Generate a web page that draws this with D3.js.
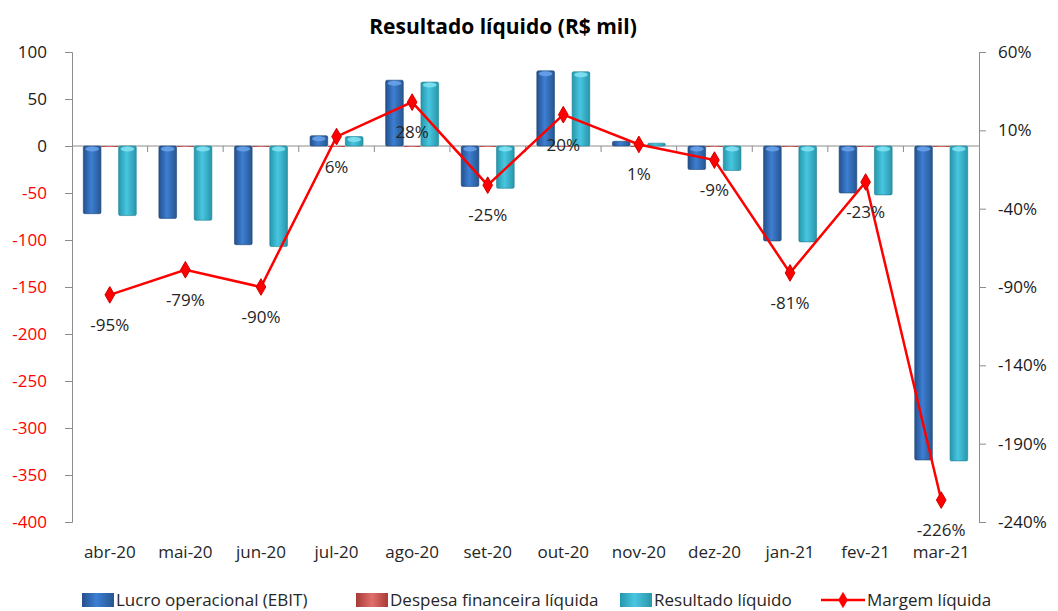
<!DOCTYPE html>
<html lang="pt">
<head>
<meta charset="UTF-8">
<title>Resultado líquido</title>
<script src="https://d3js.org/d3.v7.min.js"></script>
<style>
  body { margin: 0; background: #fff; }
  text { font-family: "Open Sans", sans-serif; }
</style>
</head>
<body>
<svg width="1058" height="611" id="mainsvg"></svg>
<script>
// dados
const meses = ['abr-20', 'mai-20', 'jun-20', 'jul-20', 'ago-20', 'set-20', 'out-20', 'nov-20', 'dez-20', 'jan-21', 'fev-21', 'mar-21'];
const lucroOperacional = [-72, -77, -105, 11, 70, -43, 80, 5, -25, -101, -50, -334];
const despesaFinanceira = [-1, -1, -1, -0.5, -1, -1, -1, -0.5, -1, -1, -1, -1];
const resultadoLiquido = [-74, -79, -107, 10, 68, -45, 79, 3, -26, -102, -52, -335];
const margemLiquida = [-95, -79, -90, 6, 28, -25, 20, 1, -9, -81, -23, -226];
const leftTicks = [100, 50, 0, -50, -100, -150, -200, -250, -300, -350, -400];
const rightTicks = [60, 10, -40, -90, -140, -190, -240];
const series = ['Lucro operacional (EBIT)', 'Despesa financeira líquida', 'Resultado líquido'];

const svg = d3.select('#mainsvg');
const margin = { top: 52, right: 79, bottom: 89, left: 72 };
const width = +svg.attr('width');
const height = +svg.attr('height');
const innerWidth = width - margin.left - margin.right;
const innerHeight = height - margin.top - margin.bottom;

// gradientes para as barras
const defs = svg.append('defs');
const grad = (id, stops) => {
  const g = defs.append('linearGradient').attr('id', id).attr('x1', 0).attr('x2', 1).attr('y1', 0).attr('y2', 0);
  stops.forEach(s => g.append('stop').attr('offset', s[0]).attr('stop-color', s[1]));
};
grad('gBlue', [[0, '#24508c'], [0.45, '#3d7fd3'], [1, '#27568f']]);
grad('gRed', [[0, '#a83a37'], [0.5, '#e0706c'], [1, '#a83a37']]);
grad('gCyan', [[0, '#2597ad'], [0.45, '#48c6e0'], [1, '#2896ab']]);
const fills = ['url(#gBlue)', 'url(#gRed)', 'url(#gCyan)'];
const strokes = ['#1f4677', '#8e2f2c', '#1f7f92'];
const caps = ['#6fa6ee', '#f09a97', '#8ae6f5'];

const g = svg.append('g').attr('transform', `translate(${margin.left},${margin.top})`);

const x0 = d3.scaleBand().domain(meses).range([0, innerWidth]).padding(0);
const x1 = d3.scaleBand().domain(series).range([0, x0.bandwidth()]).paddingInner(0).paddingOuter(0.64);
const yLeft = d3.scaleLinear().domain([-400, 100]).range([innerHeight, 0]);
const yRight = d3.scaleLinear().domain([-240, 60]).range([innerHeight, 0]);

// eixos (só linhas; os rótulos são desenhados à parte)
const axisColor = '#8c8c8c';
const leftAxis = g.append('g')
  .call(d3.axisLeft(yLeft).tickValues(leftTicks).tickSize(7).tickFormat(''));
const rightAxis = g.append('g').attr('transform', `translate(${innerWidth},0)`)
  .call(d3.axisRight(yRight).tickValues(rightTicks).tickSize(7).tickFormat(''));
[leftAxis, rightAxis].forEach(a => {
  a.selectAll('.domain, .tick line').attr('stroke', axisColor);
});

g.selectAll('text.esq')
  .data(leftTicks)
  .enter().append('text')
  .attr('class', 'esq')
  .attr('x', -25)
  .attr('y', d => yLeft(d) + 6)
  .attr('text-anchor', 'end')
  .attr('font-size', 17)
  .attr('fill', d => d < 0 ? '#ff0000' : '#1a1a1a')
  .text(d => d);

g.selectAll('text.dir')
  .data(rightTicks)
  .enter().append('text')
  .attr('class', 'dir')
  .attr('x', innerWidth + 19)
  .attr('y', d => yRight(d) + 6)
  .attr('font-size', 17)
  .attr('fill', '#1a1a1a')
  .text(d => d + '%');

// eixo de categorias na linha zero
const zeroY = yLeft(0);
const catAxis = g.append('g').attr('transform', `translate(0,${zeroY})`);
catAxis.append('line').attr('x1', 0).attr('x2', innerWidth).attr('stroke', axisColor);
catAxis.selectAll('line.tk')
  .data(meses.slice(1))
  .enter().append('line')
  .attr('class', 'tk')
  .attr('x1', d => x0(d)).attr('x2', d => x0(d))
  .attr('y1', 0).attr('y2', 6)
  .attr('stroke', axisColor);

g.selectAll('text.mes')
  .data(meses)
  .enter().append('text')
  .attr('class', 'mes')
  .attr('x', d => x0(d) + x0.bandwidth() / 2)
  .attr('y', innerHeight + 36)
  .attr('text-anchor', 'middle')
  .attr('font-size', 17)
  .attr('fill', '#262626')
  .text(d => d);

// barras
const valores = [lucroOperacional, despesaFinanceira, resultadoLiquido];
const linhas = meses.map((m, i) => series.map((s, k) => ({ mes: m, serie: s, k: k, v: valores[k][i] })));

const grupos = g.selectAll('g.grupo')
  .data(linhas)
  .enter().append('g')
  .attr('class', 'grupo')
  .attr('transform', d => `translate(${x0(d[0].mes)},0)`);

grupos.selectAll('rect')
  .data(d => d)
  .enter().append('rect')
  .attr('x', d => x1(d.serie))
  .attr('y', d => yLeft(Math.max(0, d.v)))
  .attr('width', x1.bandwidth())
  .attr('height', d => Math.max(1, Math.abs(yLeft(d.v) - yLeft(0))))
  .attr('fill', d => fills[d.k])
  .attr('stroke', d => d.k === 1 ? 'none' : strokes[d.k])
  .attr('stroke-width', 0.6)
  .attr('rx', 1.5);

// brilho na ponta das barras (efeito 3D)
grupos.selectAll('ellipse')
  .data(d => d.filter(e => e.k !== 1 && Math.abs(e.v) > 6))
  .enter().append('ellipse')
  .attr('cx', d => x1(d.serie) + x1.bandwidth() / 2)
  .attr('cy', d => d.v > 0 ? yLeft(d.v) + 3 : yLeft(0) + 3)
  .attr('rx', x1.bandwidth() / 2 - 2)
  .attr('ry', 2.5)
  .attr('fill', d => caps[d.k])
  .attr('opacity', 0.8);

// margem líquida
const cx = i => x0(meses[i]) + x0.bandwidth() / 2;
const linha = d3.line().x((d, i) => cx(i)).y(d => yRight(d));
g.append('path')
  .datum(margemLiquida)
  .attr('d', linha)
  .attr('fill', 'none')
  .attr('stroke', '#ff0000')
  .attr('stroke-width', 2.5);

const diamante = d3.symbol().type(d3.symbolDiamond).size(80);
g.selectAll('path.marca')
  .data(margemLiquida)
  .enter().append('path')
  .attr('class', 'marca')
  .attr('d', diamante)
  .attr('transform', (d, i) => `translate(${cx(i)},${yRight(d)})`)
  .attr('fill', '#ff0000')
  .attr('stroke', '#d00000');

g.selectAll('text.rotulo')
  .data(margemLiquida)
  .enter().append('text')
  .attr('class', 'rotulo')
  .attr('x', (d, i) => cx(i))
  .attr('y', d => yRight(d) + 36)
  .attr('text-anchor', 'middle')
  .attr('font-size', 17)
  .attr('fill', '#262626')
  .text(d => d + '%');

// título
svg.append('text')
  .attr('x', 503)
  .attr('y', 34)
  .attr('text-anchor', 'middle')
  .attr('font-size', 21)
  .attr('font-weight', 'bold')
  .attr('fill', '#000')
  .text('Resultado líquido (R$ mil)');

// legenda
const legenda = svg.append('g').attr('transform', 'translate(0,600)');
const itens = [
  { nome: series[0], x: 82, tipo: 0 },
  { nome: series[1], x: 356, tipo: 1 },
  { nome: series[2], x: 620, tipo: 2 },
  { nome: 'Margem líquida', x: 821, tipo: 3 }
];
itens.forEach(it => {
  if (it.tipo < 3) {
    legenda.append('rect')
      .attr('x', it.x).attr('y', -7).attr('width', 32).attr('height', 14)
      .attr('fill', fills[it.tipo]);
  } else {
    legenda.append('line').attr('x1', it.x).attr('x2', it.x + 44)
      .attr('stroke', '#ff0000').attr('stroke-width', 2.5);
    legenda.append('path').attr('d', diamante)
      .attr('transform', `translate(${it.x + 22},0)`)
      .attr('fill', '#ff0000');
  }
  legenda.append('text')
    .attr('x', it.x + (it.tipo < 3 ? 34 : 46))
    .attr('y', 6)
    .attr('font-size', 17)
    .attr('fill', '#262626')
    .text(it.nome);
});
</script>
</body>
</html>
